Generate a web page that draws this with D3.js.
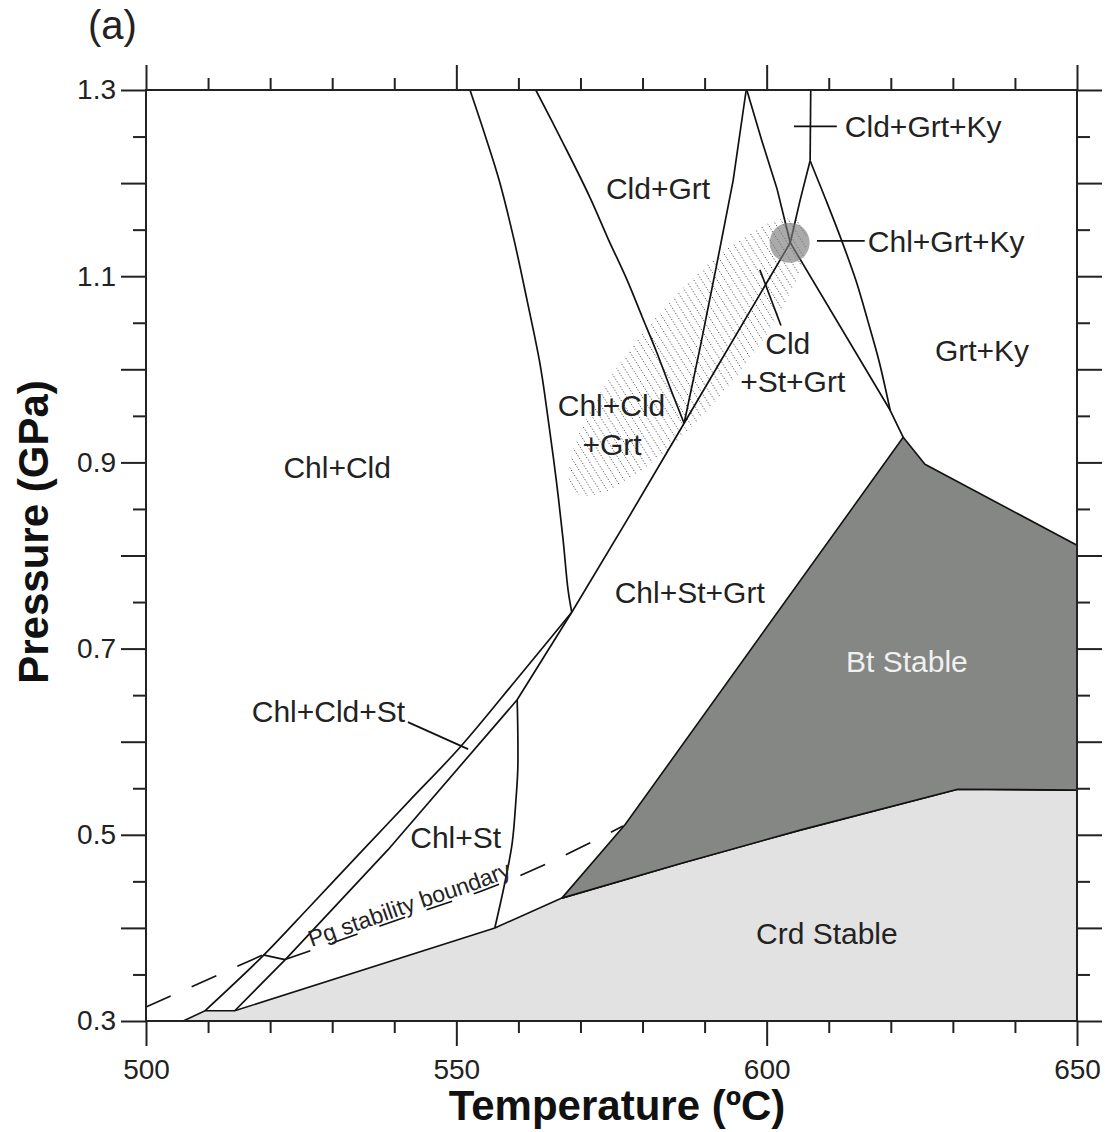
<!DOCTYPE html>
<html>
<head>
<meta charset="utf-8">
<script src="https://cdn.jsdelivr.net/npm/d3@7"></script>
<style>
  body { margin: 0; background: #fff; }
  svg { display: block; font-family: "Liberation Sans", Arial, Helvetica, sans-serif; }
</style>
</head>
<body>
<svg id="chart" width="1105" height="1132"></svg>
<script>
// P-T pseudosection, points are [temperature °C, pressure GPa]
const crdField = [[506.0, 0.300], [509.5, 0.311], [514.3, 0.311], [556.2, 0.400], [567.0, 0.432],
  [586.0, 0.469], [605.4, 0.505], [630.8, 0.549], [650, 0.548], [650, 0.300]];
const btField = [[567.0, 0.432], [577.2, 0.511], [622.0, 0.927], [625.5, 0.898], [650, 0.811],
  [650, 0.548], [630.8, 0.549], [605.4, 0.505], [586.0, 0.469]];

// reaction lines
const chlCldOut = [[552.2, 1.300], [554.6, 1.252], [556.9, 1.203], [559.3, 1.139], [561.4, 1.074],
  [563.5, 1.005], [564.8, 0.946], [566.1, 0.881], [567.2, 0.817], [568.0, 0.763], [568.6, 0.739]];
const cldGrtLeft = [[562.8, 1.300], [567.2, 1.243], [571.5, 1.185], [574.4, 1.141], [577.5, 1.096],
  [579.9, 1.057], [582.3, 1.018], [584.4, 0.981], [586.7, 0.942]];
const cldGrtRight = [[596.7, 1.300], [594.6, 1.203], [592.0, 1.114], [589.3, 1.024], [586.7, 0.942]];
const kyLineA = [[596.8, 1.300], [599.2, 1.246], [601.7, 1.193], [603.8, 1.136], [619.9, 0.956], [622.0, 0.927]];
const kyLineB = [[607.1, 1.300], [607.0, 1.224]];
const kyLineC = [[607.0, 1.224], [609.6, 1.181], [612.1, 1.138], [614.4, 1.095], [616.3, 1.052],
  [618.1, 1.009], [619.9, 0.956]];
const stGrtLine = [[607.0, 1.224], [605.4, 1.182], [603.8, 1.136], [586.7, 0.942], [577.5, 0.838], [568.6, 0.739]];
const cldStLeft = [[568.6, 0.739], [559.6, 0.666], [550.6, 0.594], [542.5, 0.537], [535.0, 0.484],
  [526.4, 0.423], [518.85, 0.370], [509.5, 0.311]];
const cldStRight = [[568.6, 0.739], [559.8, 0.645], [539.0, 0.484], [522.6, 0.367], [514.3, 0.311]];
const chlStLine = [[559.8, 0.645], [559.9, 0.613], [559.9, 0.570], [559.6, 0.537], [559.0, 0.491],
  [557.8, 0.448], [556.2, 0.400]];

// paragonite stability boundary (dashed, with a short solid step)
const pgLeft = [[500, 0.315], [518.85, 0.371]];
const pgStep = [[518.85, 0.371], [522.4, 0.366]];
const pgRight = [[522.4, 0.366], [530.1, 0.384], [544.1, 0.417], [554.6, 0.441], [565.6, 0.472], [576.85, 0.5095]];

// shaded P-T estimate and peak point
const estimateTips = [[569.1, 0.868], [605.4, 1.158]];
const peakPoint = [603.7, 1.136];

// leader lines for small fields
const leaders = [
  [[604.4, 1.261], [611.3, 1.261]],
  [[608.1, 1.138], [615.8, 1.138]],
  [[598.9, 1.107], [602.3, 1.047]],
  [[542.2, 0.621], [551.9, 0.592]]
];

const fieldLabels = [
  ['Cld+Grt', 582.5, 1.194, 'middle'],
  ['Cld+Grt+Ky', 612.6, 1.261, 'start'],
  ['Chl+Grt+Ky', 616.3, 1.138, 'start'],
  ['Cld', 603.4, 1.028, 'middle'],
  ['+St+Grt', 604.2, 0.987, 'middle'],
  ['Grt+Ky', 634.7, 1.021, 'middle'],
  ['Chl+Cld', 575.0, 0.961, 'middle'],
  ['+Grt', 575.1, 0.920, 'middle'],
  ['Chl+Cld', 530.8, 0.895, 'middle'],
  ['Chl+St+Grt', 587.6, 0.761, 'middle'],
  ['Bt Stable', 622.6, 0.686, 'middle'],
  ['Chl+Cld+St', 529.4, 0.633, 'middle'],
  ['Chl+St', 549.9, 0.497, 'middle'],
  ['Crd Stable', 609.7, 0.3945, 'middle']
];

const xMajor = [500, 550, 600, 650];
const xMinor = d3.range(510, 650, 10).filter(v => v % 50 !== 0);
const yMajor = d3.range(3, 14).map(v => v / 10);
const yMinor = d3.range(3, 13).map(v => v / 10 + 0.05);
const yLabels = [0.3, 0.5, 0.7, 0.9, 1.1, 1.3];

const x = d3.scaleLinear().domain([500, 650]).range([146, 1077]);
const y = d3.scaleLinear().domain([0.3, 1.3]).range([1021, 90]);

const svg = d3.select('#chart');
const straight = d3.line().x(d => x(d[0])).y(d => y(d[1]));
const smooth = d3.line().x(d => x(d[0])).y(d => y(d[1])).curve(d3.curveCatmullRom.alpha(0.5));

// filled fields
svg.append('path').attr('d', straight(crdField) + 'Z')
  .attr('fill', '#e2e2e2').attr('stroke', '#111').attr('stroke-width', 1.6);
svg.append('path').attr('d', straight(btField) + 'Z')
  .attr('fill', '#858784').attr('stroke', '#111').attr('stroke-width', 1.6)
  .attr('stroke-linejoin', 'round');

// shaded estimate: dotted hatch clipped to a tilted ellipse
const t0 = [x(estimateTips[0][0]), y(estimateTips[0][1])];
const t1 = [x(estimateTips[1][0]), y(estimateTips[1][1])];
const ecx = (t0[0] + t1[0]) / 2, ecy = (t0[1] + t1[1]) / 2;
const erx = Math.hypot(t1[0] - t0[0], t1[1] - t0[1]) / 2;
const eang = Math.atan2(t1[1] - t0[1], t1[0] - t0[0]) * 180 / Math.PI;

svg.append('defs').append('clipPath').attr('id', 'estimate-clip')
  .append('ellipse')
  .attr('cx', ecx).attr('cy', ecy).attr('rx', erx).attr('ry', 50)
  .attr('transform', `rotate(${eang},${ecx},${ecy})`);

const hatchAng = 58 * Math.PI / 180;
const ux = Math.cos(hatchAng), uy = Math.sin(hatchAng);
const nx = -uy, ny = ux;
svg.append('g').attr('clip-path', 'url(#estimate-clip)')
  .selectAll('line')
  .data(d3.range(-34, 35))
  .join('line')
  .attr('x1', k => ecx + k * 6.6 * nx - 260 * ux)
  .attr('y1', k => ecy + k * 6.6 * ny - 260 * uy)
  .attr('x2', k => ecx + k * 6.6 * nx + 260 * ux)
  .attr('y2', k => ecy + k * 6.6 * ny + 260 * uy)
  .attr('stroke', '#555').attr('stroke-width', 1)
  .attr('stroke-dasharray', '1.2,1.8');

// reaction lines
const lines = svg.append('g').attr('fill', 'none').attr('stroke', '#111').attr('stroke-width', 1.7)
  .attr('stroke-linejoin', 'round');
[chlCldOut, cldGrtLeft, kyLineC, chlStLine, cldStLeft].forEach(pts => {
  lines.append('path').attr('d', smooth(pts));
});
[cldGrtRight, kyLineA, kyLineB, stGrtLine, cldStRight, pgStep].forEach(pts => {
  lines.append('path').attr('d', straight(pts));
});
leaders.forEach(pts => {
  lines.append('path').attr('d', straight(pts));
});

const pg = svg.append('g').attr('fill', 'none').attr('stroke', '#111').attr('stroke-width', 1.6)
  .attr('stroke-dasharray', '27,23');
pg.append('path').attr('d', straight(pgLeft));
pg.append('path').attr('id', 'pg-right').attr('d', smooth(pgRight));

svg.append('text')
  .attr('font-size', 23).attr('fill', '#222')
  .append('textPath').attr('href', '#pg-right').attr('startOffset', 29)
  .append('tspan').attr('dy', -3).text('Pg stability boundary');

// peak point
svg.append('circle')
  .attr('cx', x(peakPoint[0])).attr('cy', y(peakPoint[1])).attr('r', 20)
  .attr('fill', '#7d7d7d').attr('opacity', 0.65);

// field labels
svg.append('g').selectAll('text')
  .data(fieldLabels)
  .join('text')
  .attr('x', d => x(d[1]))
  .attr('y', d => y(d[2]))
  .attr('dy', '0.36em')
  .attr('text-anchor', d => d[3])
  .attr('font-size', 30)
  .attr('fill', d => d[0] === 'Bt Stable' ? '#f0f0f0' : '#222')
  .text(d => d[0]);

// axes
function styleAxis(g) {
  g.select('.domain').remove();
  g.selectAll('.tick line').attr('stroke', '#222').attr('stroke-width', 2);
  g.selectAll('.tick text').attr('font-size', 28).attr('fill', '#222')
    .attr('font-family', '"Liberation Sans", Arial, Helvetica, sans-serif');
}
const fmt = d3.format('.1f');
const axes = svg.append('g');
axes.append('g').attr('transform', 'translate(146,0)')
  .call(d3.axisLeft(y).tickValues(yMajor).tickSize(25).tickPadding(5)
    .tickFormat(v => yLabels.includes(v) ? fmt(v) : ''))
  .call(styleAxis);
axes.append('g').attr('transform', 'translate(146,0)')
  .call(d3.axisLeft(y).tickValues(yMinor).tickSize(13).tickFormat(''))
  .call(styleAxis);
axes.append('g').attr('transform', 'translate(1077,0)')
  .call(d3.axisRight(y).tickValues(yMajor).tickSize(25).tickFormat(''))
  .call(styleAxis);
axes.append('g').attr('transform', 'translate(1077,0)')
  .call(d3.axisRight(y).tickValues(yMinor).tickSize(13).tickFormat(''))
  .call(styleAxis);
axes.append('g').attr('transform', 'translate(0,1021)')
  .call(d3.axisBottom(x).tickValues(xMajor).tickSize(25).tickPadding(13).tickFormat(d3.format('d')))
  .call(styleAxis);
axes.append('g').attr('transform', 'translate(0,1021)')
  .call(d3.axisBottom(x).tickValues(xMinor).tickSize(12).tickFormat(''))
  .call(styleAxis);
axes.append('g').attr('transform', 'translate(0,90)')
  .call(d3.axisTop(x).tickValues(xMajor).tickSize(25).tickFormat(''))
  .call(styleAxis);
axes.append('g').attr('transform', 'translate(0,90)')
  .call(d3.axisTop(x).tickValues(xMinor).tickSize(12).tickFormat(''))
  .call(styleAxis);

svg.append('rect')
  .attr('x', 146).attr('y', 90).attr('width', 931).attr('height', 931)
  .attr('fill', 'none').attr('stroke', '#222').attr('stroke-width', 2);

// titles
svg.append('text')
  .attr('x', 617).attr('y', 1120)
  .attr('text-anchor', 'middle')
  .attr('font-size', 42).attr('font-weight', 'bold').attr('fill', '#111')
  .text('Temperature (ºC)');
svg.append('text')
  .attr('transform', 'translate(48,532) rotate(-90)')
  .attr('text-anchor', 'middle')
  .attr('font-size', 42).attr('font-weight', 'bold').attr('fill', '#111')
  .text('Pressure (GPa)');
svg.append('text')
  .attr('x', 88).attr('y', 39)
  .attr('font-size', 40).attr('fill', '#222')
  .text('(a)');
</script>
</body>
</html>
